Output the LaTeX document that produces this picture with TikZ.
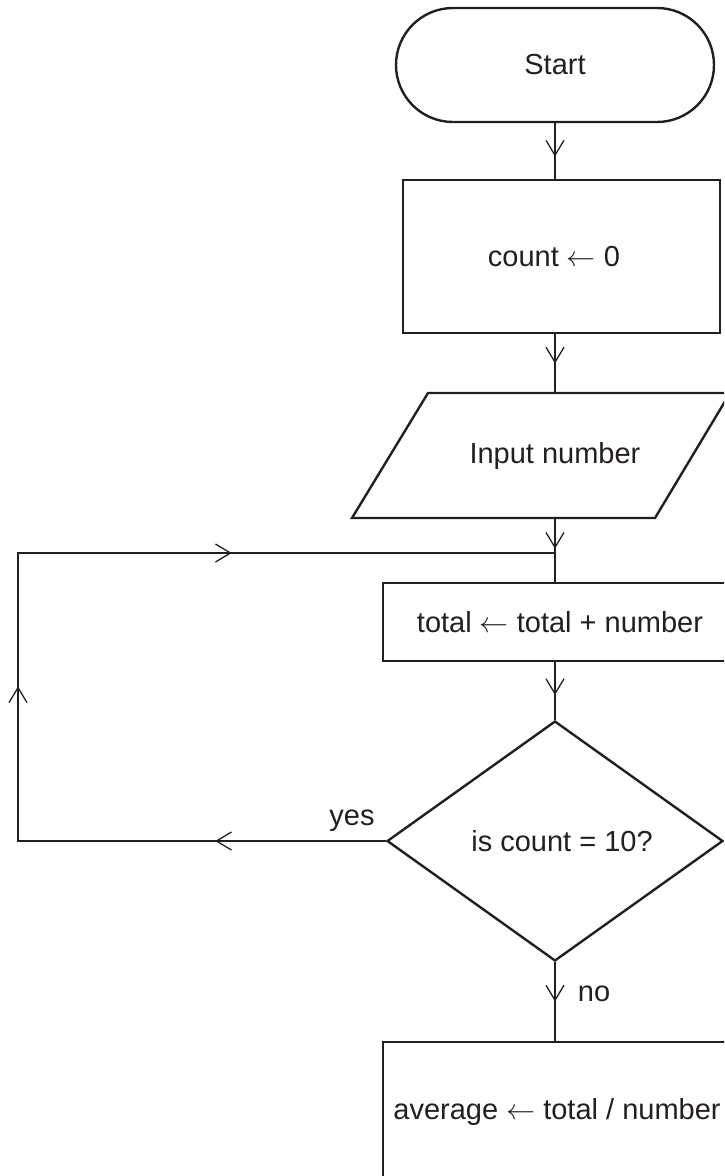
\RequirePackage{fix-cm}
\documentclass[tikz,border=0pt]{standalone}
\usepackage{amsmath}
\usepackage{amssymb}
\usepackage{fontspec}
\setmainfont{Liberation Sans}
\usetikzlibrary{arrows.meta,shapes.geometric,decorations.markings}
\definecolor{ink}{RGB}{35,31,32}

\begin{document}
\begin{tikzpicture}[x=1pt,y=-1pt,
		>={Straight Barb[length=15pt,width=18pt]},
		flowbox/.style={draw=ink,line width=2.4pt,inner sep=0pt},
		flow/.style={draw=ink,line width=1.3pt},
		midarrow/.style={postaction={decorate,decoration={markings,mark=at position #1 with {\arrow{>}}}}},
		every node/.style={font=\fontsize{29}{34}\selectfont,text=ink}]
		\pgfmathsetmacro{\lx}{18}
		\pgfmathsetmacro{\ly}{553}

		\useasboundingbox (0,0) rectangle (724,1176);
		\clip (0,0) rectangle (724,1176);

		\node[flowbox,rounded corners=57pt,minimum width=318pt,minimum height=114pt] (start) at (555,65) {Start};
		\node[flowbox,minimum width=317pt,minimum height=153pt] (count) at (561.5,256.5) {count $\leftarrow$ 0\hspace*{15pt}};
		\draw[flowbox] (428,393) -- (730,393) -- (655,518) -- (352,518) -- cycle;
		\node[minimum height=125pt,inner sep=0pt] (input) at (555,455.5) {Input number};
		\node[flowbox,minimum width=354pt,minimum height=78pt] (total) at (560,622) {total $\leftarrow$ total + number};
		\node[flowbox,diamond,minimum width=336pt,minimum height=240pt] (check) at (555,841) {\hspace*{14pt}is count = 10?};
		\node[flowbox,minimum width=348pt,minimum height=140pt] (avg) at (557,1112) {average $\leftarrow$ total / number};
		\node[anchor=base] (yes) at (352,825) {yes};
		\node[anchor=base] (no) at (594,1001) {no};

		\coordinate (loop) at (\lx,\ly);
		\coordinate (join) at (555,\ly);

		\draw[flow,midarrow=0.6] (start.south) -- (start.south |- count.north);
		\draw[flow,midarrow=0.5] (count.south -| input.north) -- (input.north);
		\draw[flow,midarrow=0.48] (input.south) -- (input.south |- total.north);
		\draw[flow,midarrow=0.57] (total.south -| check.north) -- (check.north);
		\draw[flow,midarrow=0.5] (check.south) -- (check.south |- avg.north);
		\draw[flow,postaction={decorate,decoration={markings,
			mark=at position 0.143 with {\arrow{>}},
			mark=at position 0.438 with {\arrow{>}},
			mark=at position 0.729 with {\arrow{>}}}}]
			(check.west) -- (check.west -| loop) -- (loop) -- (join);

	\end{tikzpicture}
\end{document}
